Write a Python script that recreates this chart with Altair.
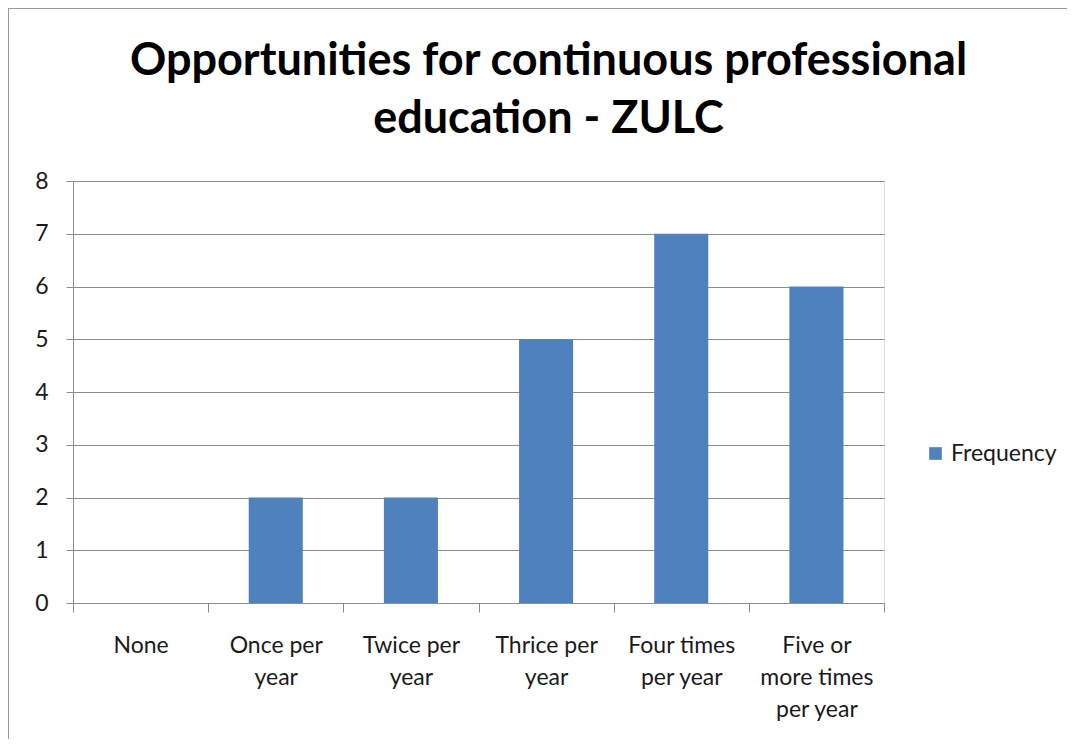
import altair as alt
import pandas as pd

categories = ["None", "Once per|year", "Twice per|year", "Thrice per|year",
              "Four times|per year", "Five or|more times|per year"]
values = [0, 2, 2, 5, 7, 6]
series = ["Frequency"] * len(categories)
y_ticks = [0, 1, 2, 3, 4, 5, 6, 7, 8]

df = pd.DataFrame({"category": categories, "value": values, "series": series})

FONT = "Lato"
GRAY = "#8c8c8c"
TXT = "#1a1a1a"

bars = alt.Chart(df).mark_bar(width=alt.RelativeBandSize(0.4)).encode(
    x=alt.X("category:N", sort=categories,
            scale=alt.Scale(paddingInner=0, paddingOuter=0),
            axis=alt.Axis(title=None, labelAngle=0, labelExpr="split(datum.label, '|')",
                          labelFontSize=23, labelFont=FONT, labelColor=TXT,
                          labelLineHeight=32, labelPadding=22, labelBaseline="top",
                          tickBand="extent", tickSize=9, tickColor=GRAY, domainColor=GRAY,
                          grid=False)),
    y=alt.Y("value:Q", scale=alt.Scale(domain=[0, 8], nice=False),
            axis=alt.Axis(title=None, values=y_ticks, labelOverlap=False,
                          labelFontSize=23, labelFont=FONT, labelColor=TXT,
                          labelPadding=18, tickSize=7, tickColor=GRAY,
                          domainColor=GRAY, gridColor=GRAY, gridWidth=1)),
    color=alt.Color("series:N", scale=alt.Scale(range=["#4F81BD"]),
                    legend=alt.Legend(title=None, orient="none", legendX=851, legendY=261,
                                      symbolType="square", symbolSize=160,
                                      symbolStrokeWidth=0, labelFontSize=23,
                                      labelFont=FONT, labelColor=TXT)),
)

left_border = alt.Chart(df).mark_rule(color="#9a9a9a", strokeWidth=2).encode(
    x=alt.value(-65), y=alt.value(-173), y2=alt.value(600))
top_border = alt.Chart(df).mark_rule(color="#9a9a9a", strokeWidth=2).encode(
    y=alt.value(-173), x=alt.value(-65), x2=alt.value(994))

chart = alt.layer(bars, left_border, top_border).properties(
    width=811, height=422,
    title=alt.Title(["Opportunities for continuous professional", "education - ZULC"],
                    fontSize=45, font=FONT, fontWeight="bold", color="#000000",
                    lineHeight=58, anchor="middle", frame="group", dx=70,
                    baseline="bottom", offset=-180),
    autosize=alt.AutoSizeParams(type="none"),
    padding={"left": 65, "top": 173, "right": 183, "bottom": 136},
).configure_view(stroke=None).configure(background="white")

chart.save("out.html", embed_options={"renderer": "svg", "actions": False})
